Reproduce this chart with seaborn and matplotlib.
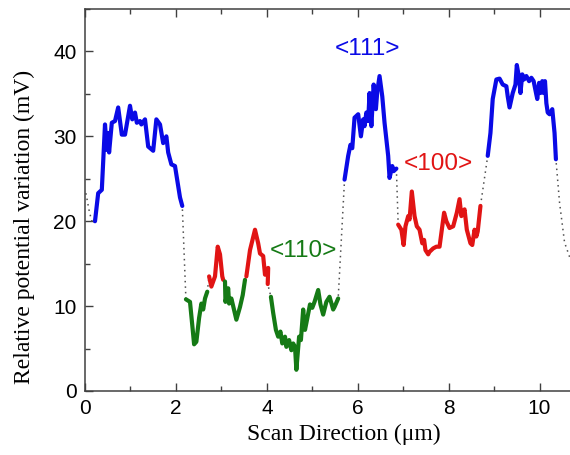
import numpy as np
import pandas as pd
import seaborn as sns
import matplotlib.pyplot as plt

# Colours of the three orientations
BLUE = "#0a0ae6"
GREEN = "#157a15"
RED = "#e11414"

# Lead-in / tail of the profile (drawn dotted only)
lead_x = [0.02, 0.10, 0.17]
lead_y = [23.3, 21.0, 19.7]
tail_x = [10.44, 10.55, 10.70]
tail_y = [22.2, 17.5, 15.2]

# <111> segments (blue)
blue1_x = [0.22, 0.29, 0.37, 0.44, 0.48, 0.51, 0.53, 0.59, 0.66, 0.73, 0.81, 0.88,
           0.99, 1.04, 1.10, 1.14, 1.21, 1.24, 1.32, 1.39, 1.50, 1.57, 1.65, 1.72,
           1.79, 1.83, 1.90, 1.98, 2.09, 2.14]
blue1_y = [20.0, 23.3, 23.7, 31.4, 28.4, 30.4, 28.1, 31.6, 31.8, 33.4, 30.2, 30.2,
           33.6, 32.0, 32.8, 31.6, 31.8, 31.4, 32.0, 28.8, 28.3, 32.0, 31.4, 29.2,
           30.0, 28.1, 26.7, 26.5, 22.8, 21.8]
blue2_x = [5.71, 5.79, 5.84, 5.88, 5.93, 6.01, 6.07, 6.12, 6.15, 6.19, 6.23, 6.26,
           6.30, 6.35, 6.40, 6.43, 6.48, 6.54, 6.59, 6.67, 6.70, 6.76, 6.79, 6.85]
blue2_y = [24.9, 27.7, 29.0, 28.6, 32.2, 32.6, 30.0, 32.0, 31.2, 32.8, 31.8, 35.1,
           31.2, 36.1, 33.2, 35.3, 37.1, 34.7, 31.6, 27.7, 25.1, 26.5, 25.9, 26.2]
blue3_x = [8.86, 8.92, 8.97, 9.05, 9.12, 9.19, 9.27, 9.30, 9.34, 9.41, 9.47, 9.50,
           9.55, 9.58, 9.62, 9.66, 9.71, 9.77, 9.82, 9.87, 9.93, 9.95, 9.99, 10.02,
           10.06, 10.09, 10.12, 10.15, 10.18, 10.22, 10.28, 10.33, 10.36]
blue3_y = [27.7, 30.4, 34.4, 36.7, 36.8, 36.1, 35.9, 34.7, 33.4, 35.1, 36.1, 38.4,
           36.9, 35.1, 37.3, 36.7, 37.1, 36.5, 36.9, 36.5, 34.9, 34.4, 36.3, 35.1,
           36.5, 35.1, 36.5, 33.9, 32.8, 32.6, 33.2, 30.4, 27.3]

# <110> segments (green)
green1_x = [2.22, 2.31, 2.37, 2.40, 2.45, 2.51, 2.56, 2.60, 2.64, 2.69]
green1_y = [10.8, 10.5, 7.2, 5.5, 5.8, 8.6, 10.3, 9.6, 10.9, 11.7]
green2_x = [3.08, 3.09, 3.15, 3.17, 3.22, 3.26, 3.33, 3.41, 3.47, 3.52]
green2_y = [12.9, 10.5, 12.1, 10.3, 10.9, 10.0, 8.4, 9.9, 11.3, 13.1]
green3_x = [4.09, 4.14, 4.20, 4.25, 4.30, 4.34, 4.40, 4.43, 4.49, 4.54, 4.58, 4.62,
            4.65, 4.71, 4.75, 4.80, 4.84, 4.87, 4.95, 5.00, 5.05, 5.13, 5.18, 5.24,
            5.31, 5.38, 5.46, 5.49, 5.57]
green3_y = [11.1, 9.2, 7.2, 6.4, 7.0, 5.6, 6.4, 5.2, 6.0, 4.8, 5.6, 5.2,
            2.5, 6.4, 6.0, 9.6, 7.2, 8.0, 10.2, 9.8, 10.5, 11.9, 10.2, 9.0,
            10.5, 11.1, 9.6, 9.9, 10.9]

# <100> segments (red)
red1_x = [2.73, 2.78, 2.86, 2.92, 2.97, 3.02, 3.04]
red1_y = [13.5, 12.3, 13.5, 17.0, 16.1, 13.5, 13.1]
red2_x = [3.55, 3.63, 3.74, 3.81, 3.85, 3.92, 3.96, 3.99, 4.03, 4.02]
red2_y = [13.5, 16.6, 19.0, 17.4, 16.2, 15.9, 13.7, 14.3, 14.5, 12.6]
red3_x = [6.89, 6.96, 7.01, 7.05, 7.11, 7.14, 7.19, 7.25, 7.30, 7.36, 7.42, 7.46,
          7.49, 7.55, 7.58, 7.66, 7.73, 7.80, 7.86, 7.90, 7.95, 8.02, 8.10, 8.18,
          8.24, 8.28, 8.35, 8.40, 8.48, 8.52, 8.57, 8.61, 8.64, 8.70]
red3_y = [19.6, 19.0, 17.2, 19.4, 20.6, 20.2, 23.5, 20.6, 19.4, 19.0, 17.4, 17.8,
          16.6, 16.1, 16.4, 16.8, 17.0, 17.0, 19.4, 21.0, 20.0, 19.2, 19.4, 21.0,
          22.6, 20.6, 21.4, 19.0, 17.4, 17.2, 19.0, 18.2, 18.8, 21.8]

segments = [
    (blue1_x, blue1_y, BLUE), (green1_x, green1_y, GREEN), (red1_x, red1_y, RED),
    (green2_x, green2_y, GREEN), (red2_x, red2_y, RED), (green3_x, green3_y, GREEN),
    (blue2_x, blue2_y, BLUE), (red3_x, red3_y, RED), (blue3_x, blue3_y, BLUE),
]

labels = ["<111>", "<100>", "<110>"]
label_x = [6.22, 7.78, 4.81]
label_y = [40.3, 26.7, 16.5]
label_colors = [BLUE, RED, GREEN]

sns.set_style("ticks")
plt.rcParams["font.family"] = ["Liberation Sans", "DejaVu Sans"]

fig = plt.figure(figsize=(5.7, 4.55), dpi=100)
ax = fig.add_axes([85 / 570, 64 / 455, 500 / 570, 382 / 455])

# full profile as a dotted line underneath
all_x = lead_x + [v for s in segments for v in s[0]] + tail_x
all_y = lead_y + [v for s in segments for v in s[1]] + tail_y
full = pd.DataFrame({"x": all_x, "y": all_y})
sns.lineplot(data=full, x="x", y="y", sort=False, estimator=None, ax=ax,
             color="#505050", linewidth=1.1, dashes=False, linestyle=(0, (1, 2.6)))

for sx, sy, col in segments:
    seg = pd.DataFrame({"x": sx, "y": sy})
    sns.lineplot(data=seg, x="x", y="y", sort=False, estimator=None, ax=ax,
                 color=col, linewidth=3.0, solid_joinstyle="round")

for txt, tx, ty, col in zip(labels, label_x, label_y, label_colors):
    ax.text(tx, ty, txt, color=col, fontsize=17.5, ha="center", va="center")

ax.set_xlim(0, 11)
ax.set_ylim(0, 45)
ax.set_xticks([0, 2, 4, 6, 8, 10])
ax.set_xticks(np.arange(1, 11, 2), minor=True)
ax.set_yticks([0, 10, 20, 30, 40])
ax.set_yticks([5, 15, 25, 35, 45], minor=True)
ax.tick_params(which="both", direction="in", top=True, right=False,
               color="#404040", width=1.0, labelsize=15, pad=6, labelcolor="black")
ax.tick_params(which="major", length=6)
ax.tick_params(which="minor", length=3.5)
for side in ["left", "bottom", "top"]:
    ax.spines[side].set_visible(True)
    ax.spines[side].set_color("#404040")
    ax.spines[side].set_linewidth(1.1)
ax.spines["right"].set_visible(False)

ax.set_xlabel("Scan Direction (\u03bcm)", family=["Liberation Serif", "DejaVu Serif"],
              fontsize=17, color="black")
ax.set_ylabel("Relative potential variation (mV)",
              family=["Liberation Serif", "DejaVu Serif"], fontsize=17, color="black")
ax.xaxis.set_label_coords(0.518, -0.085)
ax.yaxis.set_label_coords(-0.10, 0.43)

fig.savefig("out.png", dpi=100)
